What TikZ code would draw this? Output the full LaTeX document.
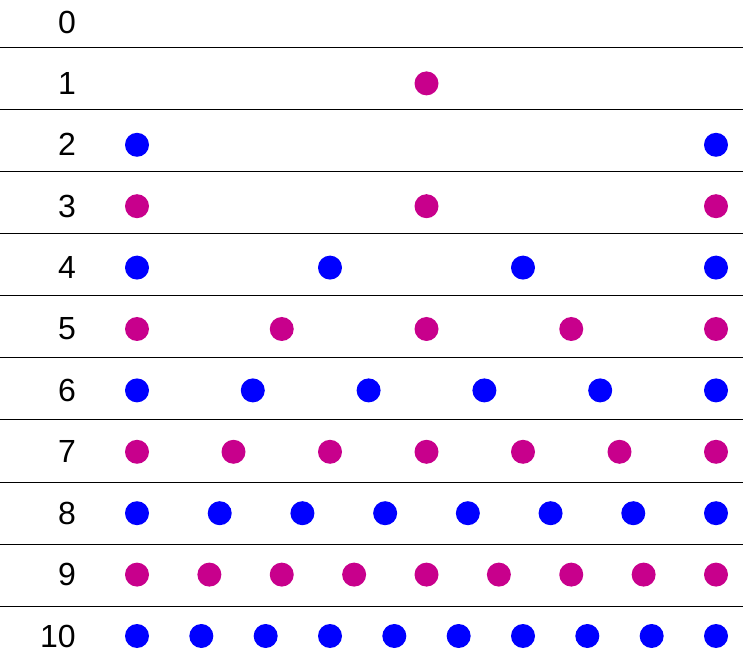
\documentclass[tikz,border=0pt]{standalone}
\usepackage{fontspec}
\setmainfont{Liberation Sans}
\definecolor{oddcol}{RGB}{200,0,140}
\definecolor{evencol}{RGB}{0,0,255}
\begin{document}
\begin{tikzpicture}[x=1pt,y=-1pt]
    \useasboundingbox (0,0) rectangle (748,655);
    \def\rowh{61.4}
    \def\left{137}
    \def\right{716}
    % row numbers
    \foreach \n in {0,...,10}
        \node [anchor=east,inner sep=0pt,font=\fontsize{32}{32}\selectfont] (lbl\n) at (76,{22+\rowh*\n}) {\n};
    % separating lines
    \foreach \k in {0,...,9}
        \draw [line width=1pt] (0,{48+62*\k}) -- (743,{48+62*\k});
    % dots
    \fill [oddcol] ({(\left+\right)/2},{22+\rowh}) circle (12);
    \foreach \n in {2,...,10}{
        \ifodd\n \def\dotcol{oddcol}\else\def\dotcol{evencol}\fi
        \pgfmathtruncatemacro{\last}{\n-1}
        \foreach \i in {0,...,\last}
            \fill [\dotcol] ({\left+(\right-\left)*\i/\last},{22+\rowh*\n}) circle (12);
    }
\end{tikzpicture}
\end{document}
